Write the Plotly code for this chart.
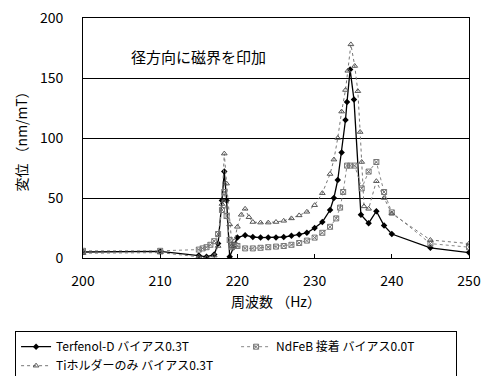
import plotly.graph_objects as go

# Terfenol-D bias 0.3T
terf_x = [200, 210, 215, 216, 217, 217.5, 218, 218.3, 218.6, 219, 219.5, 220, 221, 222, 223, 224, 225, 226, 227, 228, 229,
          230, 231, 232, 232.5, 233, 233.5, 234, 234.2, 234.6, 235.1, 236, 237, 238, 239, 240, 245, 250]
terf_y = [5, 5.5, 2, 1, 3, 12, 48, 72, 48, 1, 9, 17, 19, 17.5, 17, 17, 17, 17.5, 18.5, 19.5, 21,
          25, 30, 40, 50, 65, 88, 115, 130, 157, 132, 36, 29, 39, 27, 20, 8.5, 4.5]

# NdFeB bonded bias 0.0T
ndfeb_x = [200, 210, 215, 215.5, 216, 216.5, 217, 217.5, 218, 218.3, 218.6, 219, 219.3, 219.6, 220, 221, 222, 223, 224, 225,
           226, 227, 228, 229, 230, 231, 232, 232.8, 233.3, 233.7, 234.2, 234.6, 235.2, 236.1, 237, 238, 239, 240, 245, 250]
ndfeb_y = [6, 6, 7, 8, 9, 11, 14, 20, 40, 55, 35, 15, 9, 10, 10, 8, 8, 8.5, 9, 9.5,
           10, 11, 12.5, 14.5, 17, 21, 26, 33, 42, 55, 77, 77, 77, 58, 72, 80, 55, 38, 12, 9]

# Ti holder only bias 0.3T
ti_x = [200, 210, 215, 216, 217, 217.5, 218, 218.3, 218.6, 219, 219.3, 219.6, 220, 220.5, 221, 221.5, 222, 223, 224, 225,
        226, 227, 228, 229, 230, 231, 232, 232.5, 233, 233.5, 234, 234.3, 234.7, 235.2, 235.6, 235.9, 236.1, 236.4,
        237, 238, 239, 240, 245, 250]
ti_y = [4, 4.5, 1, 0, 2, 10, 45, 87, 62, 28, 10, 14, 26, 36, 41, 34, 30, 29.5, 29.5, 30,
        31, 33, 35.5, 38.5, 44, 54, 70, 82, 100, 122, 140, 156, 178, 160, 139, 105, 80, 43,
        41, 64, 50, 37, 15, 12]

names = ["Terfenol-D バイアス0.3T", "NdFeB 接着 バイアス0.0T", "Tiホルダーのみ バイアス0.3T"]
x_ticks = [200, 210, 220, 230, 240, 250]
y_ticks = [0, 50, 100, 150, 200]

font_family = "Noto Sans CJK JP, Noto Sans, sans-serif"

fig = go.Figure()
fig.add_trace(go.Scatter(x=terf_x, y=terf_y, name=names[0], mode="lines+markers",
                         line=dict(color="black", width=1.3),
                         marker=dict(symbol="diamond", size=5, color="black")))
fig.add_trace(go.Scatter(x=ndfeb_x, y=ndfeb_y, name=names[1], mode="lines+markers",
                         line=dict(color="#888888", width=1, dash="dot"),
                         marker=dict(symbol="square-x-open", size=5, color="#777777", line=dict(width=1))))
fig.add_trace(go.Scatter(x=ti_x, y=ti_y, name=names[2], mode="lines+markers",
                         line=dict(color="#777777", width=1, dash="dot"),
                         marker=dict(symbol="triangle-up-open", size=5, color="#555555", line=dict(width=1))))

fig.add_annotation(x=215, y=168, text="径方向に磁界を印加", showarrow=False,
                   font=dict(size=15, color="black", family=font_family))

fig.update_layout(
    width=482, height=376,
    margin=dict(l=83, r=13, t=18, b=118, autoexpand=False),
    paper_bgcolor="white", plot_bgcolor="white",
    font=dict(family=font_family, size=13, color="black"),
    showlegend=True,
    legend=dict(orientation="h", x=-0.176, y=-0.305, xanchor="left", yanchor="top",
                bordercolor="black", borderwidth=1, bgcolor="white",
                font=dict(size=12, family=font_family),
                entrywidth=175, entrywidthmode="pixels", tracegroupgap=0, itemwidth=30),
    xaxis=dict(range=[200, 250], tickvals=x_ticks, ticks="inside", ticklen=4, tickcolor="black",
               showgrid=False, showline=True, linecolor="black", linewidth=1, mirror=True,
               zeroline=False, tickfont=dict(size=14), ticklabelstandoff=10,
               title=dict(text="周波数 （Hz）", font=dict(size=14), standoff=8)),
    yaxis=dict(range=[0, 200], tickvals=y_ticks, ticks="", showgrid=True, gridcolor="black", gridwidth=1,
               showline=True, linecolor="black", linewidth=1, mirror=True, zeroline=False,
               tickfont=dict(size=14), ticklabelstandoff=16,
               title=dict(text="変位 （nm/mT）", font=dict(size=14), standoff=8)),
)

fig.write_html("out.html")
